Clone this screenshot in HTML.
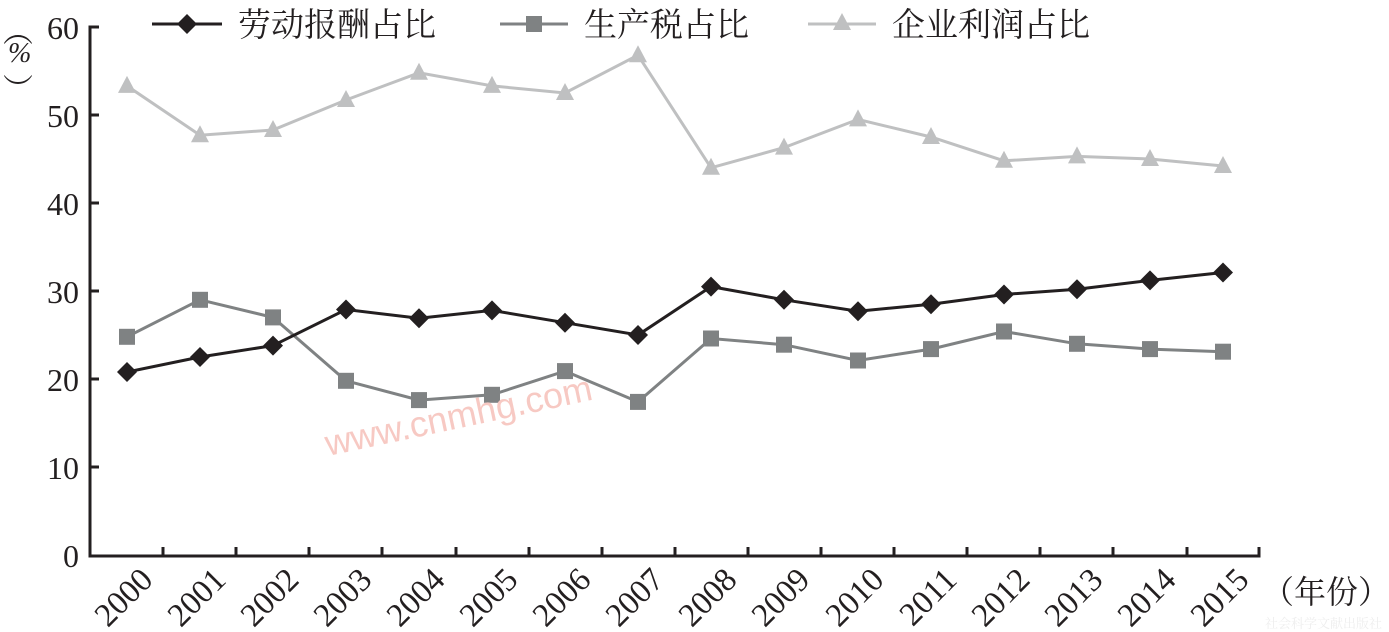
<!DOCTYPE html>
<html><head><meta charset="utf-8"><style>
html,body{margin:0;padding:0;background:#fff;}
svg{display:block;}
text{font-family:"Liberation Serif","Noto Serif CJK SC",serif;fill:#231f20;}
.cjk{font-family:"Liberation Serif","Noto Serif CJK SC",serif;}
</style></head><body>
<svg width="1389" height="632" viewBox="0 0 1389 632" xmlns="http://www.w3.org/2000/svg">
<defs>
<polygon id="d" points="0,-10 10,0 0,10 -10,0" fill="#231f20"/>
<rect id="s" x="-8" y="-8" width="16" height="16" fill="#7f8283"/>
<polygon id="t" points="0,-10 -9,7 9,7" fill="#bfc0c1"/>
</defs>
<path d="M99,27 H90 V556 H1259 V547" fill="none" stroke="#231f20" stroke-width="3"/>
<g stroke="#231f20" stroke-width="3">
<line x1="90" x2="99" y1="467" y2="467"/><line x1="90" x2="99" y1="379" y2="379"/><line x1="90" x2="99" y1="291" y2="291"/><line x1="90" x2="99" y1="203" y2="203"/><line x1="90" x2="99" y1="115" y2="115"/>
<line x1="163" x2="163" y1="556" y2="547"/><line x1="236" x2="236" y1="556" y2="547"/><line x1="309" x2="309" y1="556" y2="547"/><line x1="382" x2="382" y1="556" y2="547"/><line x1="456" x2="456" y1="556" y2="547"/><line x1="529" x2="529" y1="556" y2="547"/><line x1="602" x2="602" y1="556" y2="547"/><line x1="675" x2="675" y1="556" y2="547"/><line x1="748" x2="748" y1="556" y2="547"/><line x1="821" x2="821" y1="556" y2="547"/><line x1="894" x2="894" y1="556" y2="547"/><line x1="967" x2="967" y1="556" y2="547"/><line x1="1040" x2="1040" y1="556" y2="547"/><line x1="1113" x2="1113" y1="556" y2="547"/><line x1="1187" x2="1187" y1="556" y2="547"/>
</g>
<g font-size="32" text-anchor="end">
<text x="79" y="567">0</text><text x="79" y="479">10</text><text x="79" y="391">20</text><text x="79" y="303">30</text><text x="79" y="215">40</text><text x="79" y="127">50</text><text x="79" y="39">60</text>
</g>
<g font-size="33" text-anchor="end">
<text transform="translate(139,566) rotate(-45)" dy="22">2000</text>
<text transform="translate(212,566) rotate(-45)" dy="22">2001</text>
<text transform="translate(285,566) rotate(-45)" dy="22">2002</text>
<text transform="translate(358,566) rotate(-45)" dy="22">2003</text>
<text transform="translate(431,566) rotate(-45)" dy="22">2004</text>
<text transform="translate(504,566) rotate(-45)" dy="22">2005</text>
<text transform="translate(577,566) rotate(-45)" dy="22">2006</text>
<text transform="translate(650,566) rotate(-45)" dy="22">2007</text>
<text transform="translate(723,566) rotate(-45)" dy="22">2008</text>
<text transform="translate(796,566) rotate(-45)" dy="22">2009</text>
<text transform="translate(870,566) rotate(-45)" dy="22">2010</text>
<text transform="translate(943,566) rotate(-45)" dy="22">2011</text>
<text transform="translate(1016,566) rotate(-45)" dy="22">2012</text>
<text transform="translate(1089,566) rotate(-45)" dy="22">2013</text>
<text transform="translate(1162,566) rotate(-45)" dy="22">2014</text>
<text transform="translate(1235,566) rotate(-45)" dy="22">2015</text>
</g>
<polyline fill="none" stroke="#bfc0c1" stroke-width="3" points="127,85.9 200,135.2 273,130 346,100 419,72.8 492,85.9 565,93 638,55.2 711,167.8 784,147.6 858,119.4 931,137 1004,160.8 1077,156.4 1150,159 1223,166"/>
<use href="#t" x="127" y="85.9"/><use href="#t" x="200" y="135.2"/><use href="#t" x="273" y="130"/><use href="#t" x="346" y="100"/><use href="#t" x="419" y="72.8"/><use href="#t" x="492" y="85.9"/><use href="#t" x="565" y="93"/><use href="#t" x="638" y="55.2"/><use href="#t" x="711" y="167.8"/><use href="#t" x="784" y="147.6"/><use href="#t" x="858" y="119.4"/><use href="#t" x="931" y="137"/><use href="#t" x="1004" y="160.8"/><use href="#t" x="1077" y="156.4"/><use href="#t" x="1150" y="159"/><use href="#t" x="1223" y="166"/>
<polyline fill="none" stroke="#7f8283" stroke-width="3" points="127,336.8 200,299.8 273,317.4 346,380.8 419,400.1 492,394.8 565,371.1 638,401.9 711,338.5 784,344.7 858,360.5 931,349.1 1004,331.5 1077,343.8 1150,349.1 1223,351.7"/>
<use href="#s" x="127" y="336.8"/><use href="#s" x="200" y="299.8"/><use href="#s" x="273" y="317.4"/><use href="#s" x="346" y="380.8"/><use href="#s" x="419" y="400.1"/><use href="#s" x="492" y="394.8"/><use href="#s" x="565" y="371.1"/><use href="#s" x="638" y="401.9"/><use href="#s" x="711" y="338.5"/><use href="#s" x="784" y="344.7"/><use href="#s" x="858" y="360.5"/><use href="#s" x="931" y="349.1"/><use href="#s" x="1004" y="331.5"/><use href="#s" x="1077" y="343.8"/><use href="#s" x="1150" y="349.1"/><use href="#s" x="1223" y="351.7"/>
<polyline fill="none" stroke="#231f20" stroke-width="3" points="127,372 200,357 273,345.6 346,309.5 419,318.3 492,310.4 565,322.7 638,335 711,286.6 784,299.8 858,311.2 931,304.2 1004,294.5 1077,289.2 1150,280.4 1223,272.5"/>
<use href="#d" x="127" y="372"/><use href="#d" x="200" y="357"/><use href="#d" x="273" y="345.6"/><use href="#d" x="346" y="309.5"/><use href="#d" x="419" y="318.3"/><use href="#d" x="492" y="310.4"/><use href="#d" x="565" y="322.7"/><use href="#d" x="638" y="335"/><use href="#d" x="711" y="286.6"/><use href="#d" x="784" y="299.8"/><use href="#d" x="858" y="311.2"/><use href="#d" x="931" y="304.2"/><use href="#d" x="1004" y="294.5"/><use href="#d" x="1077" y="289.2"/><use href="#d" x="1150" y="280.4"/><use href="#d" x="1223" y="272.5"/>
<line x1="152" x2="222" y1="24" y2="24" stroke="#231f20" stroke-width="3"/><use href="#d" x="187" y="24"/>
<text class="cjk" x="238" y="36" font-size="33">劳动报酬占比</text>
<line x1="500" x2="568" y1="24" y2="24" stroke="#7f8283" stroke-width="3"/><use href="#s" x="534" y="24"/>
<text class="cjk" x="584" y="36" font-size="33">生产税占比</text>
<line x1="808" x2="876" y1="24" y2="24" stroke="#bfc0c1" stroke-width="3"/><use href="#t" x="842" y="23"/>
<text class="cjk" x="892" y="36" font-size="33">企业利润占比</text>
<text class="cjk" x="3" y="42" font-size="30">︵</text>
<text x="8" y="62" font-size="28" font-style="italic">%</text>
<text class="cjk" x="3" y="100" font-size="30">︶</text>
<text class="cjk" x="1262" y="603" font-size="32">（年份）</text>
<text transform="translate(328,456) rotate(-12)" font-size="36" style="font-family:'Liberation Sans',sans-serif;fill:#f7c9c3">www.cnmhg.com</text>
<text class="cjk" x="1265" y="628" font-size="13" style="fill:#eeeeee">社会科学文献出版社</text>
</svg>
</body></html>
